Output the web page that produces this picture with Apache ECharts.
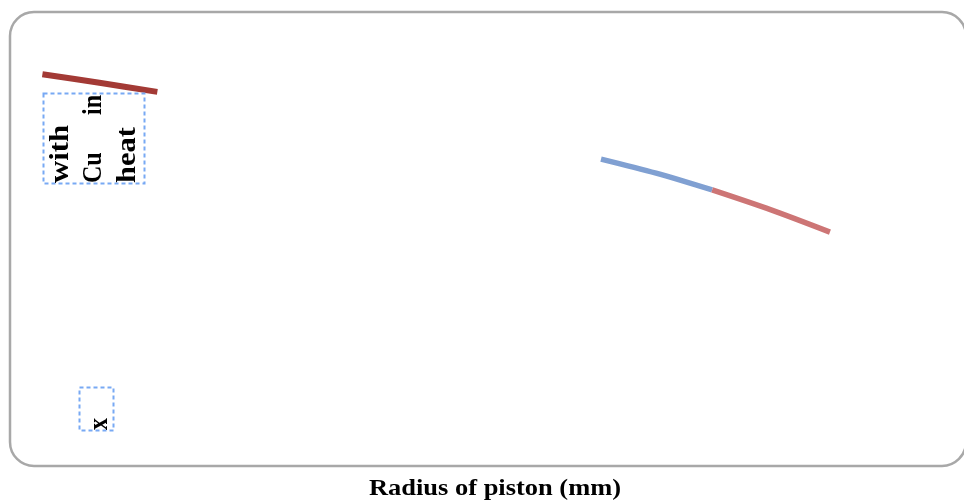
<!DOCTYPE html>
<html>
<head>
<meta charset="utf-8">
<script src="https://cdn.jsdelivr.net/npm/echarts@6/dist/echarts.min.js"></script>
<style>
html,body{margin:0;padding:0;background:#fff;}
#chart{width:964px;height:502px;}
</style>
</head>
<body>
<div id="chart"></div>
<script>
// Data (radius of piston in axis units, value in axis units)
const radiusDark = [3.2, 9.2, 15.3];
const valueDark = [86.3, 84.4, 82.4];
const radiusBlue = [62.0, 67.8, 73.7];
const valueBlue = [67.6, 64.5, 60.8];
const radiusRed = [73.7, 79.9, 86.1];
const valueRed = [60.8, 56.4, 51.5];
const xAxisTitle = 'Radius of piston (mm)';
const boxWords = ['with', 'Cu', 'in', 'heat'];
const markLabel = 'x';

function pairs(xs, ys) { return xs.map((x, i) => [x, ys[i]]); }

const chart = echarts.init(document.getElementById('chart'), null, {renderer: 'canvas'});
const serif = '"Liberation Serif", "Times New Roman", serif';
const dash = '#78A9F4';

function rotText(txt, x, y, align, sx) {
  return {
    type: 'text', x: x, y: y, rotation: Math.PI / 2, scaleX: sx || 1, scaleY: 1.15, z: 10,
    style: { text: txt, fill: '#000', font: 'bold 24px ' + serif, textAlign: align, textVerticalAlign: 'middle' }
  };
}

chart.setOption({
  animation: false,
  backgroundColor: '#fff',
  grid: { left: 12, right: 2, top: 12, bottom: 36 },
  xAxis: { type: 'value', min: 0, max: 100, show: false },
  yAxis: { type: 'value', min: 0, max: 100, show: false },
  series: [
    { type: 'line', data: pairs(radiusDark, valueDark), symbol: 'none', smooth: 0.3,
      lineStyle: { color: '#A33A35', width: 6, cap: 'butt' } },
    { type: 'line', data: pairs(radiusBlue, valueBlue), symbol: 'none', smooth: 0.3,
      lineStyle: { color: '#80A0D2', width: 5.5, cap: 'butt' } },
    { type: 'line', data: pairs(radiusRed, valueRed), symbol: 'none', smooth: 0.3,
      lineStyle: { color: '#CD7575', width: 5.5, cap: 'butt' } }
  ],
  graphic: [
    { type: 'rect', z: 1, shape: { x: 10, y: 12, width: 956, height: 454, r: 24 },
      style: { fill: 'none', stroke: '#A8A8A8', lineWidth: 2.5 } },
    { type: 'rect', z: 5, shape: { x: 43.5, y: 93.5, width: 101, height: 90 },
      style: { fill: 'none', stroke: dash, lineWidth: 2, lineDash: [4, 3] } },
    { type: 'rect', z: 5, shape: { x: 79.5, y: 387.5, width: 34, height: 43 },
      style: { fill: 'none', stroke: dash, lineWidth: 2, lineDash: [4, 3] } },
    rotText(boxWords[0], 61, 183, 'left', 1.28),
    rotText(boxWords[1], 94, 183, 'left', 1),
    rotText(boxWords[2], 94, 95, 'right', 1),
    rotText(boxWords[3], 128, 183, 'left', 1.27),
    rotText(markLabel, 100, 430, 'left', 1),
    { type: 'text', x: 495, y: 489, scaleX: 1.15, z: 10,
      style: { text: xAxisTitle, fill: '#000', font: 'bold 23px ' + serif, textAlign: 'center', textVerticalAlign: 'middle' } }
  ]
});
</script>
</body>
</html>
